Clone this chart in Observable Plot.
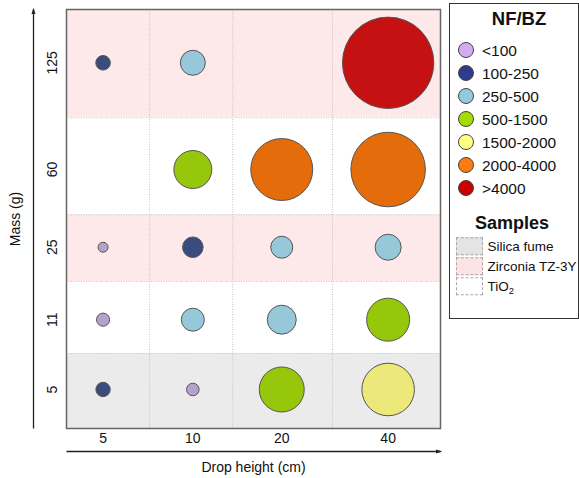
<!DOCTYPE html>
<html>
<head>
<meta charset="utf-8">
<script src="https://cdn.jsdelivr.net/npm/d3@7"></script>
<script src="https://cdn.jsdelivr.net/npm/@observablehq/plot@0.6"></script>
<style>
  html, body { margin: 0; padding: 0; background: #fff; }
  #root { position: relative; width: 579px; height: 478px; font-family: 'Liberation Sans', Arial, sans-serif; color: #111; }
  #legend { position: absolute; left: 449px; top: 3px; width: 130px; height: 316px; box-sizing: border-box; border: 1px solid #333; background: #fff; }
  #legend .c { position: absolute; transform: translate(-50%, -50%); line-height: 1; white-space: nowrap; }
  #legend .l { position: absolute; transform: translateY(-50%); line-height: 1; white-space: nowrap; }
  #legend sub { font-size: 70%; vertical-align: -0.3em; line-height: 0; }
</style>
</head>
<body>
<div id="root">
  <div id="chart"></div>
  <div id="legend"></div>
</div>
<script>
// ---------- data ----------
const masses = [5, 11, 25, 60, 125];          // Mass (g), bottom to top
const dropHeights = [5, 10, 20, 40];          // Drop height (cm)
// NF/BZ value per drop height, one array per mass (null = not measured)
const nfbzAt5g   = [114, 87, 1114, 1520];
const nfbzAt11g  = [95, 291, 463, 1017];
const nfbzAt25g  = [55, 233, 266, 372];
const nfbzAt60g  = [null, 794, 2114, 3061];
const nfbzAt125g = [117, 344, null, 4595];
const nfbzRows = [nfbzAt5g, nfbzAt11g, nfbzAt25g, nfbzAt60g, nfbzAt125g];
const rowSample = ["Silica fume", "TiO2", "Zirconia TZ-3Y", "TiO2", "Zirconia TZ-3Y"];
const binLabels = ["<100", "100-250", "250-500", "500-1500", "1500-2000", "2000-4000", ">4000"];
const binUpper  = [100, 250, 500, 1500, 2000, 4000, Infinity];
const sampleLabels = ["Silica fume", "Zirconia TZ-3Y", "TiO2"];

// ---------- layout / style (scale units, not data) ----------
const colEdges = [0, 1, 2, 3.2, 4.5];
const colCenters = [0.44, 1.52, 2.59, 3.87];
const rowEdges = [0, 0.904, 1.771, 2.575, 3.743, 5.048];
const rowCenters = [0.47, 1.311, 2.184, 3.12, 4.406];
const bubblePalette = ["#b4a2cc", "#3a4b7e", "#97c8d9", "#97c70a", "#ece97a", "#e46c0a", "#c51111"];
const legendPalette = ["#d6aaf2", "#2f3b8c", "#93cadb", "#a2dc00", "#ffff80", "#fb7d10", "#c90000"];
const sampleFill = {"Silica fume": "#ebebeb", "Zirconia TZ-3Y": "#fde9e9", "TiO2": "#ffffff"};
const sampleSwatch = {"Silica fume": "#e4e4e4", "Zirconia TZ-3Y": "#fde4e4", "TiO2": "#ffffff"};

const binOf = v => binLabels[binUpper.findIndex(u => v < u)];

const bubbles = [];
masses.forEach((m, i) => dropHeights.forEach((h, j) => {
  const v = nfbzRows[i][j];
  if (v != null) bubbles.push({mass: m, height: h, mi: i, hj: j, value: v, bin: binOf(v)});
}));

const rows = masses.map((m, i) => ({mass: m, sample: rowSample[i], y1: rowEdges[i], y2: rowEdges[i + 1]}));

const marks = [];
for (const s of sampleLabels) {
  marks.push(Plot.rect(rows.filter(r => r.sample === s), {
    x1: () => colEdges[0], x2: () => colEdges[colEdges.length - 1],
    y1: "y1", y2: "y2", fill: sampleFill[s]
  }));
}
marks.push(
  Plot.ruleX(colEdges.slice(1, -1), {stroke: "#c2c2c2", strokeWidth: 1, strokeDasharray: "1,1.5"}),
  Plot.ruleY(rowEdges.slice(1, -1), {stroke: "#c2c2c2", strokeWidth: 1, strokeDasharray: "1,1.5"}),
  Plot.frame({stroke: "#666", strokeWidth: 1.5}),
  Plot.dot(bubbles, {
    x: d => colCenters[d.hj], y: d => rowCenters[d.mi], r: "value",
    fill: "bin", stroke: "#555", strokeWidth: 1, sort: {channel: "-r"}
  }),
  // x tick labels
  Plot.text(dropHeights, {x: (d, i) => colCenters[i], y: () => 0, dy: 10, text: d => String(d), fontSize: 14, lineAnchor: "middle"}),
  // y tick labels
  Plot.text(masses, {x: () => 0, y: (d, i) => rowCenters[i], dx: -14, rotate: -90, text: d => String(d), fontSize: 14, textAnchor: "middle", lineAnchor: "middle"}),
  // axis titles
  Plot.text(["Mass (g)"], {frameAnchor: "left", dx: -51, rotate: -90, fontSize: 14, textAnchor: "middle", lineAnchor: "middle"}),
  Plot.text(["Drop height (cm)"], {frameAnchor: "bottom", dy: 39, fontSize: 14, textAnchor: "middle", lineAnchor: "middle"}),
  // axis arrows
  Plot.link([0], {x1: () => colEdges[0], x2: () => colEdges[colEdges.length - 1], y1: () => 0, y2: () => 0, dy: 23, stroke: "#222", strokeWidth: 1.3, markerEnd: "arrow"}),
  Plot.link([0], {x1: () => 0, x2: () => 0, y1: () => rowEdges[0], y2: () => rowEdges[rowEdges.length - 1], dx: -33, stroke: "#222", strokeWidth: 1.3, markerEnd: "arrow"})
);

const chart = Plot.plot({
  width: 579, height: 478,
  marginLeft: 66, marginRight: 139, marginTop: 9, marginBottom: 50,
  x: {domain: [colEdges[0], colEdges[colEdges.length - 1]], axis: null},
  y: {domain: [rowEdges[0], rowEdges[rowEdges.length - 1]], axis: null},
  r: {domain: [0, 4600], range: [0, 45.7]},
  color: {type: "ordinal", domain: binLabels, range: bubblePalette},
  style: {fontFamily: "'Liberation Sans', Arial, sans-serif", background: "transparent", overflow: "visible", color: "#111"},
  marks
});
// filled arrow heads
d3.select(chart).selectAll("marker").each(function() {
  const m = d3.select(this);
  const c = m.attr("stroke");
  m.attr("fill", c).attr("stroke", "none");
  m.selectAll("path").attr("d", "M-6,-2.6L2,0L-6,2.6Z");
});
document.getElementById("chart").appendChild(chart);

// ---------- legend ----------
const lg = document.getElementById("legend");
const add = (html, cls, css) => {
  const e = document.createElement("div");
  e.className = cls; e.innerHTML = html; Object.assign(e.style, css); lg.appendChild(e); return e;
};
add("NF/BZ", "c", {left: "69px", top: "15px", fontWeight: "bold", fontSize: "18.5px"});
binLabels.forEach((b, i) => {
  const y = 46 + 23 * i;
  add("", "c", {left: "16px", top: y + "px", width: "16px", height: "16px", borderRadius: "50%",
    background: legendPalette[i], border: "1px solid #444", boxSizing: "border-box"});
  add(b.replace("<", "&lt;").replace(">", "&gt;"), "l", {left: "32px", top: (y + 0.5) + "px", fontSize: "15.5px"});
});
add("Samples", "c", {left: "62px", top: "219px", fontWeight: "bold", fontSize: "18px"});
sampleLabels.forEach((s, i) => {
  const top = 233.5 + 20 * i;
  add("", "l", {left: "5.5px", top: (top + 8.75) + "px", width: "27px", height: "17.5px",
    background: sampleSwatch[s], border: "1px dashed #a8a8a8", boxSizing: "border-box"});
  add(s === "TiO2" ? "TiO<sub>2</sub>" : s, "l", {left: "37.5px", top: (top + 9) + "px", fontSize: "13.5px"});
});
</script>
</body>
</html>
